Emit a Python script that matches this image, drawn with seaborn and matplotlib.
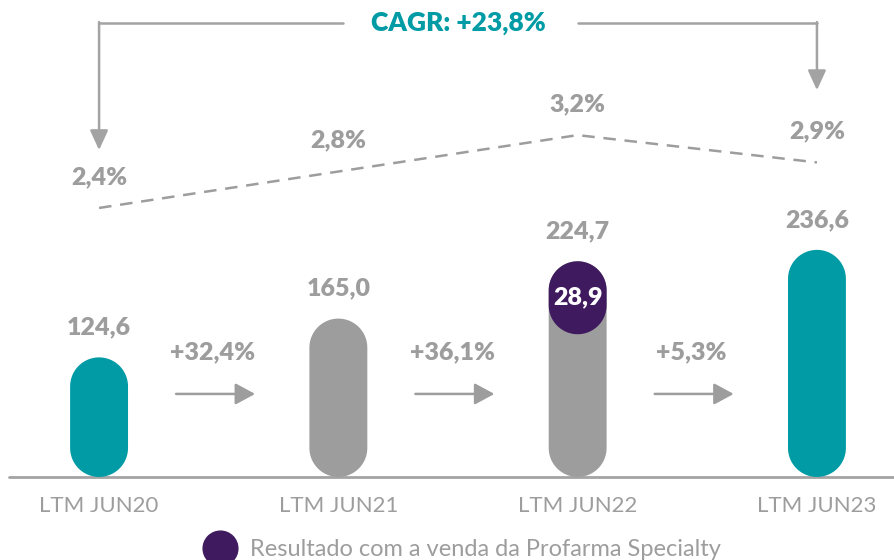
import numpy as np
import pandas as pd
import seaborn as sns
import matplotlib.pyplot as plt
from matplotlib.patches import Polygon
from matplotlib.transforms import blended_transform_factory

# data
periods = ["LTM JUN20", "LTM JUN21", "LTM JUN22", "LTM JUN23"]
ebitda = [124.6, 165.0, 224.7, 236.6]
ebitda_labels = ["124,6", "165,0", "224,7", "236,6"]
specialty = [0, 0, 28.9, 0]
specialty_labels = ["", "", "28,9", ""]
margin = [2.4, 2.8, 3.2, 2.9]
margin_labels = ["2,4%", "2,8%", "3,2%", "2,9%"]
growth_labels = ["+32,4%", "+36,1%", "+5,3%"]
cagr_label = "CAGR: +23,8%"
legend_label = "Resultado com a venda da Profarma Specialty"

TEAL = "#009ba5"
GRAY = "#9d9d9d"
LIGHT = "#a3a3a3"
PURPLE = "#3f1a5f"
bar_colors = [TEAL, GRAY, GRAY, TEAL]

sns.set_theme(style="white")
plt.rcParams['font.family'] = ['Lato', 'DejaVu Sans']

fig = plt.figure(figsize=(8.94, 5.6), dpi=100)
ax = fig.add_axes([0, 0, 1, 1])

df = pd.DataFrame({"period": periods, "ebitda": ebitda})
sns.barplot(data=df, x="period", y="ebitda", hue="period", palette=bar_colors,
            width=0.242, saturation=1, legend=False, ax=ax)
ax.set_xlim(-0.414, 3.322)
ax.set_ylim(-86.5, 496.9)
ax.set_axis_off()


def px_per_unit(a):
    x0, y0 = a.transData.transform((0, 0))
    x1, y1 = a.transData.transform((1, 1))
    return x1 - x0, y1 - y0


def pill(a, x, y, w, h, color, z=2):
    # capsule shape: semicircles (in pixels) at both ends
    pxx, pxy = px_per_unit(a)
    rx = w / 2
    ry = rx * pxx / pxy
    cx = x + rx
    t = np.linspace(0, np.pi, 40)
    top = np.column_stack([cx + rx * np.cos(t), y + h - ry + ry * np.sin(t)])
    bot = np.column_stack([cx - rx * np.cos(t), y + ry - ry * np.sin(t)])
    a.add_patch(Polygon(np.vstack([top, bot]), closed=True, fc=color, ec="none", zorder=z))


# turn seaborn's rectangles into pills
for p in list(ax.patches):
    x, y, w, h = p.get_x(), p.get_y(), p.get_width(), p.get_height()
    c = p.get_facecolor()
    p.remove()
    pill(ax, x, y, w, h, c)

pxx, pxy = px_per_unit(ax)
w = 0.242
for i, (tot, seg) in enumerate(zip(ebitda, specialty)):
    if seg <= 0:
        continue
    h = max(seg * pxy, 1.26 * w * pxx) / pxy
    pill(ax, i - w / 2, tot - h, w, h, PURPLE, z=3)
    ax.text(i, tot - h / 2, specialty_labels[i], ha="center", va="center",
            color="white", fontsize=18, fontweight="heavy", zorder=4)

# baseline
ax.plot([-0.376, 3.4], [0, 0], color=LIGHT, lw=2, zorder=1)

# value labels and categories
for i, v in enumerate(ebitda):
    ax.annotate(ebitda_labels[i], (i, v), xytext=(0, 30), textcoords="offset pixels",
                ha="center", va="center", fontsize=18, fontweight="heavy", color=GRAY)
    ax.annotate(periods[i], (i, 0), xytext=(0, -29), textcoords="offset pixels",
                ha="center", va="center", fontsize=16, fontweight="normal", color=GRAY)

# growth arrows
arrow_y = 86.5
for i, g in enumerate(growth_labels):
    ax.annotate("", xy=(i + 0.652, arrow_y), xytext=(i + 0.322, arrow_y),
                arrowprops=dict(arrowstyle="-|>,head_length=1.2,head_width=0.65",
                                color=GRAY, lw=1.8, shrinkA=0, shrinkB=0, mutation_scale=10))
    ax.annotate(g, (i + 0.475, arrow_y), xytext=(0, 42), textcoords="offset pixels",
                ha="center", va="center", fontsize=18, fontweight="heavy", color=GRAY)

# margin line
ax2 = ax.twinx()
ax2.set_position([0, 0, 1, 1])
sns.lineplot(x=np.arange(len(periods)), y=margin, ax=ax2, color=GRAY, lw=1.8)
ax2.lines[0].set_dashes((5, 3.5))
ax2.set_ylim(-1.467, 4.684)
ax2.set_xlim(-0.414, 3.322)
ax2.set_axis_off()
for i, m in enumerate(margin):
    ax2.annotate(margin_labels[i], (i, m), xytext=(0, 31), textcoords="offset pixels",
                 ha="center", va="center", fontsize=18, fontweight="heavy", color=GRAY)

# CAGR bracket
tr = blended_transform_factory(ax.transData, ax.transAxes)
top = 0.959
ax.plot([0, 1.02], [top, top], color=LIGHT, lw=1.8, transform=tr, clip_on=False)
ax.plot([2.0, 3.0], [top, top], color=LIGHT, lw=1.8, transform=tr, clip_on=False)
for x0, tip in [(0, 0.732), (3, 0.839)]:
    ax.annotate("", xy=(x0, tip), xytext=(x0, top + 0.0015),
                xycoords=("data", "axes fraction"), textcoords=("data", "axes fraction"),
                arrowprops=dict(arrowstyle="-|>,head_length=1.2,head_width=0.55",
                                color=LIGHT, lw=1.8, shrinkA=0, shrinkB=0, mutation_scale=10))
ax.text(1.5, top, cagr_label, transform=tr, ha="center", va="center",
        fontsize=19, fontweight="heavy", color=TEAL)

# legend
fig.lines.append(plt.Line2D([220 / 894], [1 - 548 / 560], transform=fig.transFigure,
                            marker="o", ms=25, color=PURPLE, ls="none"))
fig.text(250 / 894, 1 - 550 / 560, legend_label, ha="left", va="center",
         fontsize=17, fontweight="normal", color=GRAY)

fig.savefig("out.png", dpi=100, facecolor="white")
